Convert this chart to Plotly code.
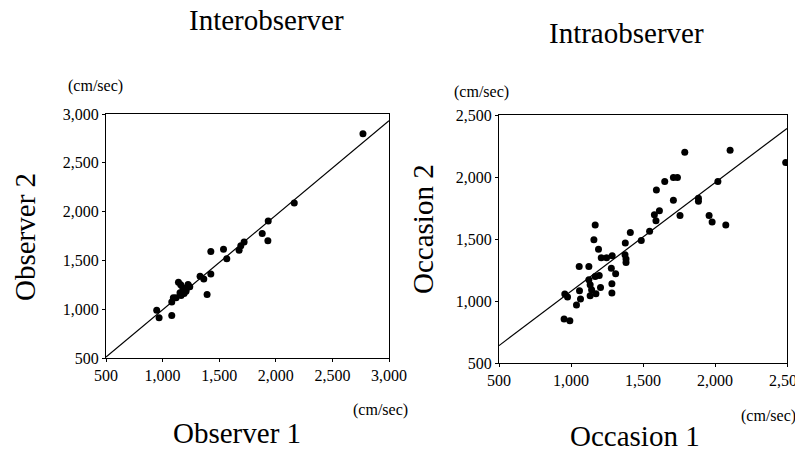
import plotly.graph_objects as go

# Interobserver (Observer 1 vs Observer 2), cm/sec
inter_x = [2770, 2163, 1933, 1880, 1930, 1720, 1691, 1676, 1567, 1538, 1426, 1426,
           1331, 1364, 1393, 1225, 1215, 1207, 1178, 1140, 1160, 1154, 1163, 1190,
           1119, 1095, 1081, 1081, 948, 969, 1200, 1240]
inter_y = [2797, 2089, 1903, 1775, 1701, 1688, 1651, 1603, 1516, 1613, 1590, 1360,
           1337, 1310, 1151, 1252, 1220, 1185, 1219, 1276, 1250, 1168, 1141, 1160,
           1117, 1117, 1074, 935, 989, 912, 1200, 1230]
inter_fit_x = [500, 3000]
inter_fit_y = [510, 2930]

# Intraobserver (Occasion 1 vs Occasion 2), cm/sec
intra_x = [1790, 2105, 2491, 1739, 1711, 1651, 1593, 2020, 1711, 1885, 1885, 1614,
           1579, 1590, 1757, 1959, 1980, 2075, 1546, 1488, 1412, 1377, 1375, 1382,
           1382, 1286, 1247, 1210, 1191, 1159, 1168, 1280, 1310, 1284, 1284, 1196,
           1168, 1205, 1173, 1133, 1124, 1124, 1133, 1143, 1057, 1059, 1066, 1038,
           957, 976, 952, 992]
intra_y = [2200, 2216, 2116, 1996, 1996, 1963, 1896, 1963, 1813, 1829, 1805, 1727,
           1695, 1647, 1689, 1689, 1638, 1612, 1563, 1488, 1553, 1467, 1373, 1338,
           1311, 1365, 1348, 1348, 1418, 1493, 1612, 1265, 1220, 1139, 1064, 1206,
           1198, 1109, 1058, 1042, 1279, 1171, 1131, 1091, 1279, 1083, 1016, 967,
           1056, 1032, 854, 841]
intra_fit_x = [500, 2500]
intra_fit_y = [640, 2392]

left_ticks = [500, 1000, 1500, 2000, 2500, 3000]
left_tick_text = ["500", "1,000", "1,500", "2,000", "2,500", "3,000"]
right_ticks = [500, 1000, 1500, 2000, 2500]
right_tick_text = ["500", "1,000", "1,500", "2,000", "2,500"]

FONT = "Liberation Serif, Times New Roman, serif"
W, H = 803, 450
OFF = 8  # default page body margin


def px(x):
    return (x - OFF) / W


def py(y):
    return 1 - (y - OFF) / H


fig = go.Figure()
fig.add_trace(go.Scatter(x=inter_fit_x, y=inter_fit_y, mode="lines",
                         line=dict(color="black", width=1.2), xaxis="x", yaxis="y",
                         showlegend=False, hoverinfo="skip"))
fig.add_trace(go.Scatter(x=inter_x, y=inter_y, mode="markers",
                         marker=dict(color="black", size=7), xaxis="x", yaxis="y",
                         showlegend=False))
fig.add_trace(go.Scatter(x=intra_fit_x, y=intra_fit_y, mode="lines",
                         line=dict(color="black", width=1.2), xaxis="x2", yaxis="y2",
                         showlegend=False, hoverinfo="skip"))
fig.add_trace(go.Scatter(x=intra_x, y=intra_y, mode="markers",
                         marker=dict(color="black", size=7), xaxis="x2", yaxis="y2",
                         showlegend=False))


def ax(domain, rng, ticks, text, anchor):
    return dict(domain=domain, range=rng, tickvals=ticks, ticktext=text,
                showgrid=False, zeroline=False, showline=True, linecolor="black",
                linewidth=1, mirror=True, ticks="outside", ticklen=3,
                tickcolor="black", anchor=anchor, automargin=False,
                tickfont=dict(family=FONT, size=16, color="black"))


fig.update_layout(
    width=W, height=H, margin=dict(l=0, r=0, t=0, b=0, autoexpand=False),
    plot_bgcolor="white", paper_bgcolor="white",
    xaxis=ax([px(106), px(389)], [500, 3000], left_ticks, left_tick_text, "y"),
    yaxis=ax([py(358), py(114)], [500, 3000], left_ticks, left_tick_text, "x"),
    xaxis2=ax([px(499), px(787)], [500, 2500], right_ticks, right_tick_text, "y2"),
    yaxis2=ax([py(363), py(115)], [500, 2500], right_ticks, right_tick_text, "x2"),
)


def note(text, x, y, size, angle=0):
    fig.add_annotation(text=text, x=px(x), y=py(y), xref="paper", yref="paper",
                       xanchor="center", yanchor="middle",
                       showarrow=False, textangle=angle,
                       font=dict(family=FONT, size=size, color="black"))


note("Interobserver", 266, 20, 29)
note("Intraobserver", 626, 33, 29)
note("(cm/sec)", 95, 86, 16)
note("(cm/sec)", 481, 92, 16)
note("(cm/sec)", 380, 410, 16)
note("(cm/sec)", 768, 416, 16)
note("Observer 1", 237, 433, 29)
note("Occasion 1", 635, 436, 29)
note("Observer 2", 25, 237, 29, -90)
note("Occasion 2", 423, 229, 29, -90)

fig.write_html("out.html")
